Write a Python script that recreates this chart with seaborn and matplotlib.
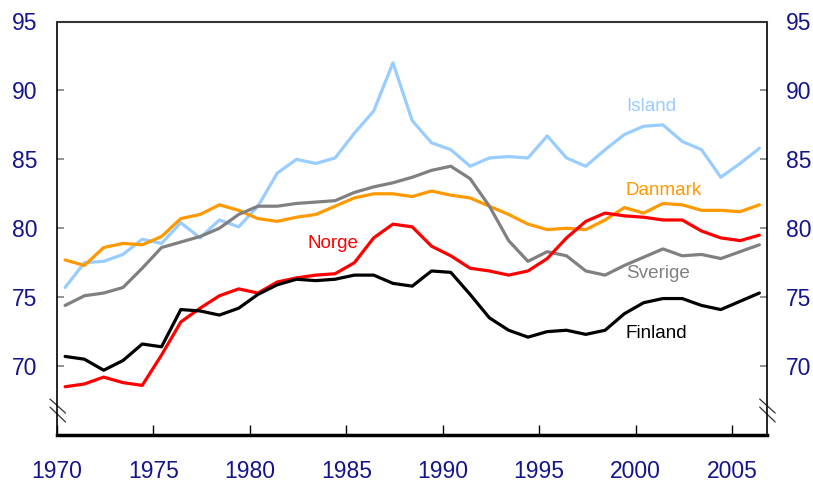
import matplotlib
matplotlib.use("Agg")
import matplotlib.pyplot as plt
import seaborn as sns
import pandas as pd
import numpy as np
from matplotlib.lines import Line2D

years = list(range(1970, 2007))

island = [75.7, 77.5, 77.6, 78.1, 79.2, 78.9, 80.4, 79.3, 80.6, 80.1,
          81.6, 84.0, 85.0, 84.7, 85.1, 86.9, 88.5, 92.0, 87.8, 86.2,
          85.7, 84.5, 85.1, 85.2, 85.1, 86.7, 85.1, 84.5, 85.7, 86.8,
          87.4, 87.5, 86.3, 85.7, 83.7, 84.7, 85.8]
danmark = [77.7, 77.3, 78.6, 78.9, 78.8, 79.4, 80.7, 81.0, 81.7, 81.3,
           80.7, 80.5, 80.8, 81.0, 81.6, 82.2, 82.5, 82.5, 82.3, 82.7,
           82.4, 82.2, 81.6, 81.0, 80.3, 79.9, 80.0, 79.9, 80.6, 81.5,
           81.1, 81.8, 81.7, 81.3, 81.3, 81.2, 81.7]
sverige = [74.4, 75.1, 75.3, 75.7, 77.1, 78.6, 79.0, 79.4, 80.0, 81.0,
           81.6, 81.6, 81.8, 81.9, 82.0, 82.6, 83.0, 83.3, 83.7, 84.2,
           84.5, 83.6, 81.6, 79.1, 77.6, 78.3, 78.0, 76.9, 76.6, 77.3,
           77.9, 78.5, 78.0, 78.1, 77.8, 78.3, 78.8]
norge = [68.5, 68.7, 69.2, 68.8, 68.6, 70.8, 73.2, 74.2, 75.1, 75.6,
         75.3, 76.1, 76.4, 76.6, 76.7, 77.5, 79.3, 80.3, 80.1, 78.7,
         78.0, 77.1, 76.9, 76.6, 76.9, 77.8, 79.3, 80.5, 81.1, 80.9,
         80.8, 80.6, 80.6, 79.8, 79.3, 79.1, 79.5]
finland = [70.7, 70.5, 69.7, 70.4, 71.6, 71.4, 74.1, 74.0, 73.7, 74.2,
           75.2, 75.9, 76.3, 76.2, 76.3, 76.6, 76.6, 76.0, 75.8, 76.9,
           76.8, 75.2, 73.5, 72.6, 72.1, 72.5, 72.6, 72.3, 72.6, 73.8,
           74.6, 74.9, 74.9, 74.4, 74.1, 74.7, 75.3]

series_names = ["Island", "Danmark", "Sverige", "Norge", "Finland"]
series_values = [island, danmark, sverige, norge, finland]
colors = {"Island": "#99CCFF", "Danmark": "#FF9900", "Sverige": "#808080",
          "Norge": "#FF0000", "Finland": "#000000"}
label_pos = {"Island": (2000.8, 88.85), "Danmark": (2001.45, 82.75),
             "Norge": (1984.3, 78.9), "Sverige": (2001.15, 76.7),
             "Finland": (2001.1, 72.4)}

y_ticks = [70, 75, 80, 85, 90, 95]
x_ticks = [1970, 1975, 1980, 1985, 1990, 1995, 2000, 2005]

rows = []
for name, vals in zip(series_names, series_values):
    for yr, v in zip(years, vals):
        rows.append({"year": yr + 0.42, "value": v, "series": name})
df = pd.DataFrame(rows)

sns.set_style("white")
plt.rcParams["font.family"] = ["Liberation Sans", "DejaVu Sans"]

fig = plt.figure(figsize=(8.13, 4.82), dpi=100)
ax = fig.add_axes([57/813, 1-435/482, (766.7-57)/813, (435-21.5)/482])

sns.lineplot(data=df, x="year", y="value", hue="series", palette=colors,
             hue_order=series_names, linewidth=2.3, legend=False, ax=ax)

ax.set_xlim(1970, 2006.8)
ax.set_ylim(65, 95)
ax.set_xlabel("")
ax.set_ylabel("")

ax.set_xticks(x_ticks)
ax.set_xticklabels([str(t) for t in x_ticks])
ax.set_yticks(y_ticks)
ax.set_yticklabels([str(t) for t in y_ticks])

navy = "#14148C"
ax.tick_params(axis="x", direction="in", length=7, width=1, color="black",
               labelsize=16.5, labelcolor=navy, pad=18, bottom=True)
ax.tick_params(axis="y", direction="in", length=5, width=1.2, color="#808080",
               labelsize=16.5, labelcolor=navy, pad=14, left=True, right=True,
               labelright=True)

for s in ["left", "right"]:
    ax.spines[s].set_color("black")
    ax.spines[s].set_linewidth(1.2)
ax.spines["top"].set_color("#333333")
ax.spines["top"].set_linewidth(1.5)
ax.spines["bottom"].set_color("black")
ax.spines["bottom"].set_linewidth(2.5)

for name in series_names:
    x, y = label_pos[name]
    ax.text(x, y, name, color=colors[name], fontsize=13.6, ha="center", va="center")

# axis break marks
for xs in (0.0, 1.0):
    for (y0, y1) in ((0.087, 0.053), (0.0676, 0.0314)):
        ax.add_line(Line2D([xs - 0.0099, xs + 0.0120], [y0, y1],
                           transform=ax.transAxes, color="#333333",
                           linewidth=0.9, clip_on=False))

fig.savefig("out.png", dpi=100)
